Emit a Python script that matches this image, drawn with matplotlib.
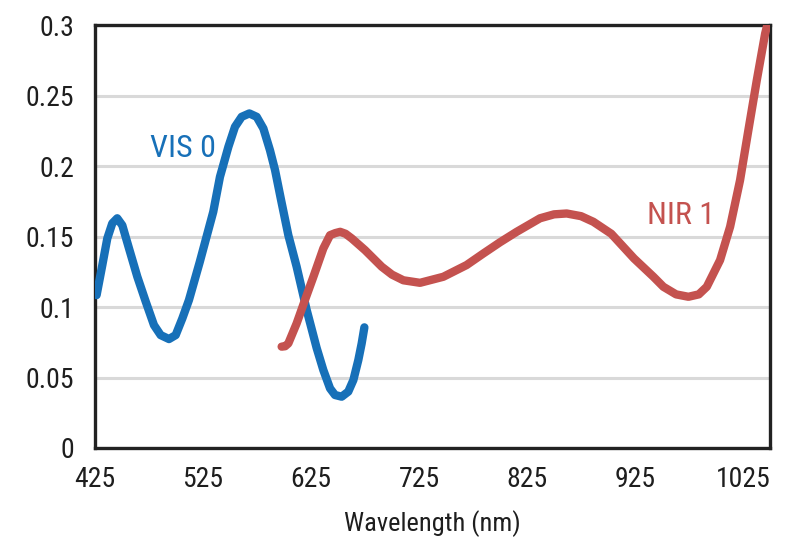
import matplotlib
matplotlib.use('Agg')
import matplotlib.pyplot as plt

# values
vis_nm = [426.5, 431.8, 436.4, 441, 445.6, 450.3, 456.5, 464.2, 472, 479.6, 485.8,
          493.5, 499.7, 505.9, 512, 522, 534.5, 540.7, 548.5, 554.6, 560.8, 567.9,
          574.7, 580.9, 587, 591.7, 597, 604, 611.7, 621, 630.2, 636.4, 642.6,
          647.2, 653.4, 659.5, 664.2, 668.8, 671.9, 674.4]
vis_val = [0.1085, 0.1298, 0.1487, 0.1594, 0.163, 0.158, 0.1416, 0.1215, 0.1038,
           0.0872, 0.0801, 0.0773, 0.0801, 0.092, 0.105, 0.132, 0.1676, 0.1924,
           0.2137, 0.2279, 0.235, 0.2374, 0.235, 0.2267, 0.2113, 0.1972, 0.177,
           0.151, 0.1286, 0.0979, 0.071, 0.0553, 0.0423, 0.0376, 0.0364, 0.04,
           0.0482, 0.0624, 0.0742, 0.0856]

nir_nm = [597.8, 601, 604, 611.7, 619.4, 627.2, 636.4, 642.6, 647.5, 652, 657,
          662.7, 675, 690.5, 700, 710.5, 725.9, 747.5, 769, 784.5, 800, 815.4, 837,
          850, 861.7, 875, 886.4, 903, 924, 942, 951.2, 963, 974.4, 984, 991.4,
          1003.7, 1013, 1022.2, 1029.9, 1037.7, 1045.4, 1048]
nir_val = [0.0719, 0.0722, 0.0742, 0.0884, 0.105, 0.1215, 0.1416, 0.151, 0.1525,
           0.1534, 0.152, 0.1487, 0.1404, 0.1286, 0.123, 0.119, 0.1172, 0.1215,
           0.1298, 0.138, 0.146, 0.1534, 0.163, 0.1658, 0.1664, 0.1645, 0.1605,
           0.152, 0.1345, 0.1215, 0.1144, 0.109, 0.1073, 0.109, 0.1144, 0.1333,
           0.157, 0.19, 0.2255, 0.261, 0.294, 0.302]

xticks = [425, 525, 625, 725, 825, 925, 1025]
yticks = [0, 0.05, 0.1, 0.15, 0.2, 0.25, 0.3]
ylabels = ['0', '0.05', '0.1', '0.15', '0.2', '0.25', '0.3']

blue = '#1770b8'
red = '#c4524f'

plt.rcParams['font.family'] = ['Roboto Condensed', 'Liberation Sans Narrow', 'DejaVu Sans']

fig = plt.figure(figsize=(7.85, 5.48), dpi=100)
ax = fig.add_axes([0.121, 0.1825, 0.86, 0.7715])

ax.plot(vis_nm, vis_val, color=blue, lw=6, solid_capstyle='round', solid_joinstyle='round', zorder=3)
ax.plot(nir_nm, nir_val, color=red, lw=6, solid_capstyle='round', solid_joinstyle='round', zorder=3)

ax.text(476, 0.2128, 'VIS 0', color=blue, fontsize=23, va='center', ha='left')
ax.text(936, 0.165, 'NIR 1', color=red, fontsize=23, va='center', ha='left')

ax.set_xlim(425, 1050)
ax.set_ylim(0, 0.3)
ax.set_xticks(xticks)
ax.set_yticks(yticks)
ax.set_yticklabels(ylabels)
ax.tick_params(length=0, labelsize=20, colors='#1e1e1e')
ax.tick_params(axis='x', pad=13)
ax.tick_params(axis='y', pad=15)
ax.yaxis.grid(True, color='#d9d9d9', lw=2.2)
ax.set_axisbelow(True)
for s in ax.spines.values():
    s.set_linewidth(2.4)
    s.set_color('#222222')

ax.set_xlabel('Wavelength (nm)', fontsize=19, color='#1e1e1e', labelpad=12)

fig.savefig('out.png', dpi=100)
